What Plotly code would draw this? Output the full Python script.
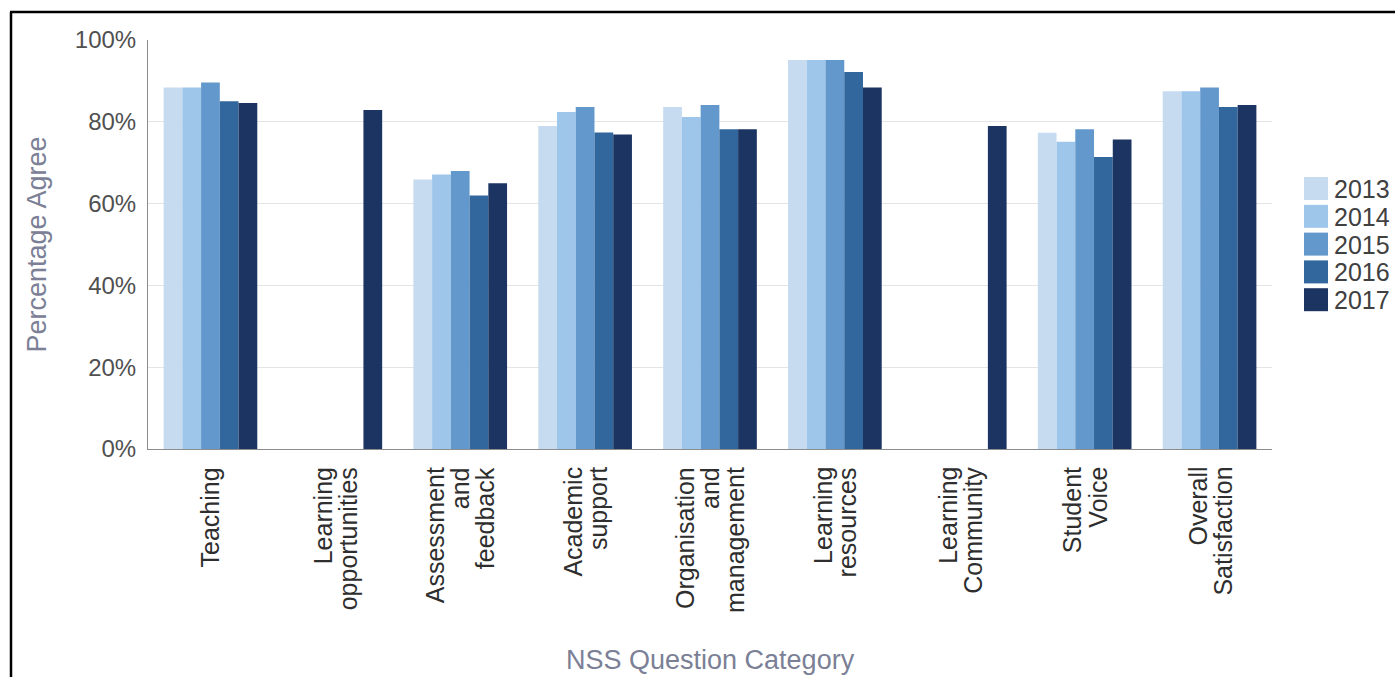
import plotly.graph_objects as go

# NSS question categories (line breaks as printed on the axis)
categories = [
    "Teaching",
    "Learning<br>opportunities",
    "Assessment<br>and<br>feedback",
    "Academic<br>support",
    "Organisation<br>and<br>management",
    "Learning<br>resources",
    "Learning<br>Community",
    "Student<br>Voice",
    "Overall<br>Satisfaction",
]

years = ["2013", "2014", "2015", "2016", "2017"]

# Percentage agree per year (None = question not asked that year)
pct_2013 = [88.4, None, 65.9, 79.0, 83.6, 95.1, None, 77.3, 87.5]
pct_2014 = [88.4, None, 67.1, 82.4, 81.2, 95.1, None, 75.1, 87.5]
pct_2015 = [89.6, None, 68.0, 83.6, 84.1, 95.1, None, 78.2, 88.4]
pct_2016 = [85.0, None, 62.0, 77.4, 78.2, 92.2, None, 71.4, 83.6]
pct_2017 = [84.6, 82.9, 65.0, 76.9, 78.2, 88.4, 79.0, 75.7, 84.1]

year_values = [pct_2013, pct_2014, pct_2015, pct_2016, pct_2017]
year_colors = ["#C6DBF0", "#9DC6EA", "#6398CC", "#32679D", "#1C3461"]

y_ticks = [0, 20, 40, 60, 80, 100]
y_tick_labels = ["0%", "20%", "40%", "60%", "80%", "100%"]

FONT = "Liberation Sans, Arial, sans-serif"
W, H = 1395, 677
ML, MR, MT, MB = 148, 123, 40, 228
PW, PH = W - ML - MR, H - MT - MB


def px_to_paper_x(px):
    return (px - ML) / PW


def px_to_paper_y(py):
    return (H - MB - py) / PH


fig = go.Figure()
for yr, vals, col in zip(years, year_values, year_colors):
    fig.add_trace(go.Bar(name=yr, x=categories, y=vals,
                         marker=dict(color=col, line=dict(width=0)),
                         showlegend=False))

shapes = []
annotations = []

# Category labels: vertical text, one annotation per line for tight line spacing
LINE_PITCH = 25
for cat in categories:
    lines = cat.split("<br>")
    n = len(lines)
    for j, line in enumerate(lines):
        annotations.append(dict(
            xref="x", yref="y", x=cat, y=0,
            xanchor="center", yanchor="top",
            xshift=(j - (n - 1) / 2) * LINE_PITCH, yshift=-16,
            textangle=-90, showarrow=False, text=line,
            font=dict(family=FONT, size=25, color="#2E2E2E")))

# X-axis title
annotations.append(dict(xref="paper", yref="paper", x=0.5, y=px_to_paper_y(660),
                        xanchor="center", yanchor="middle", showarrow=False,
                        text="NSS Question Category",
                        font=dict(family=FONT, size=27, color="#7B8096")))

# Legend: coloured squares with year labels
leg_x0, leg_top, sq, pitch = 1304, 177, 24, 27.8
for i, (yr, col) in enumerate(zip(years, year_colors)):
    top = leg_top + i * pitch
    shapes.append(dict(type="rect", xref="paper", yref="paper",
                       x0=px_to_paper_x(leg_x0), x1=px_to_paper_x(leg_x0 + sq),
                       y0=px_to_paper_y(top + sq - 1), y1=px_to_paper_y(top),
                       fillcolor=col, line=dict(width=0)))
    annotations.append(dict(xref="paper", yref="paper",
                            x=px_to_paper_x(leg_x0 + sq + 4),
                            y=px_to_paper_y(top + sq / 2),
                            xanchor="left", yanchor="middle", showarrow=False,
                            text=yr, font=dict(family=FONT, size=25, color="#404040")))

# Page frame (left and top rules)
shapes.append(dict(type="line", xref="paper", yref="paper",
                   x0=px_to_paper_x(11), x1=px_to_paper_x(11),
                   y0=px_to_paper_y(12), y1=px_to_paper_y(H + 5),
                   line=dict(color="#000000", width=2.5)))
shapes.append(dict(type="line", xref="paper", yref="paper",
                   x0=px_to_paper_x(10), x1=px_to_paper_x(W + 5),
                   y0=px_to_paper_y(12), y1=px_to_paper_y(12),
                   line=dict(color="#000000", width=2.5)))

fig.update_layout(
    width=W, height=H,
    margin=dict(l=ML, r=MR, t=MT, b=MB),
    paper_bgcolor="white", plot_bgcolor="white",
    barmode="group", bargap=0.25, bargroupgap=0,
    font=dict(family=FONT),
    shapes=shapes, annotations=annotations,
    showlegend=False,
)

fig.update_yaxes(
    range=[0, 100], tickmode="array", tickvals=y_ticks, ticktext=y_tick_labels,
    showgrid=True, gridcolor="#E4E4E4", gridwidth=1,
    zeroline=False, showline=True, linecolor="#8C8C8C", linewidth=1,
    ticks="", ticklabelstandoff=6,
    tickfont=dict(family=FONT, size=24, color="#505050"),
    title=dict(text="Percentage Agree", standoff=20,
               font=dict(family=FONT, size=27, color="#7B8096")),
)
fig.update_xaxes(
    showline=True, linecolor="#8C8C8C", linewidth=1, ticks="",
    showticklabels=False, automargin=False,
)

fig.write_html("out.html")
